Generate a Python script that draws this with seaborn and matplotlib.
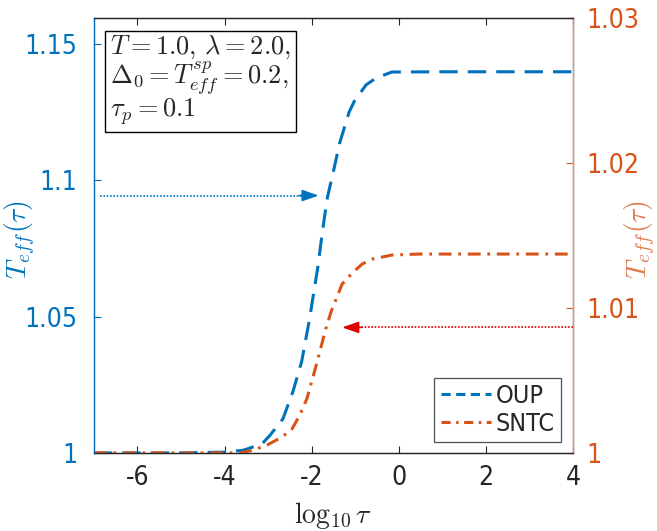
import numpy as np
import pandas as pd
import matplotlib
matplotlib.use('Agg')
import matplotlib.pyplot as plt
import seaborn as sns
from matplotlib.lines import Line2D

# 数据
oup_x = [-7.0, -5.0, -4.0, -3.57, -3.14, -2.95, -2.66, -2.43, -2.23, -2.05, -1.86,
         -1.75, -1.64, -1.48, -1.36, -1.14, -1.02, -0.75, -0.52, -0.16, 1.0, 4.0]
oup_y = [1.0, 1.0, 1.0003, 1.001, 1.0033, 1.0066, 1.0125, 1.0225, 1.0335, 1.049, 1.068,
         1.0815, 1.0936, 1.1047, 1.1135, 1.125, 1.129, 1.135, 1.1375, 1.1397, 1.1398, 1.1398]

sntc_x = [-7.0, -5.0, -4.0, -3.64, -3.34, -3.02, -2.68, -2.45, -2.27, -2.11, -2.0, -1.89,
          -1.77, -1.68, -1.55, -1.43, -1.30, -1.07, -0.84, -0.61, -0.16, 0.45, 2.0, 4.0]
sntc_y = [1.0, 1.0, 1.0, 1.0, 1.0002, 1.00055, 1.0011, 1.00166, 1.00263, 1.00374, 1.00492,
          1.0061, 1.00748, 1.00852, 1.00977, 1.01067, 1.01165, 1.0124, 1.01303, 1.01337,
          1.01365, 1.01372, 1.01372, 1.01372]

# 箭头（起点, 终点）
blue_arrow = [(-6.85, 1.0944), (-1.84, 1.0944)]
red_arrow = [(4.0, 1.00866), (-1.30, 1.00866)]

left_ticks = [1.0, 1.05, 1.1, 1.15]
left_labels = ['1', '1.05', '1.1', '1.15']
right_ticks = [1.0, 1.01, 1.02, 1.03]
right_labels = ['1', '1.01', '1.02', '1.03']
x_ticks = [-6, -4, -2, 0, 2, 4]

blue = '#0072BD'
orange = '#D95319'
dark = '#262626'
oup_dash = (6.0, 3.3)
sntc_dash = (4.2, 2.2, 0.9, 2.2)

sns.set_style('ticks')
plt.rcParams['font.family'] = ['DejaVu Sans']
plt.rcParams['font.stretch'] = 'condensed'
plt.rcParams['mathtext.fontset'] = 'cm'

fig = plt.figure(figsize=(6.57, 5.31), dpi=100)
ax = fig.add_axes([0.143, 0.147, 0.729, 0.819])
ax2 = ax.twinx()

df_oup = pd.DataFrame({'x': oup_x, 'y': oup_y})
df_sntc = pd.DataFrame({'x': sntc_x, 'y': sntc_y})

sns.lineplot(data=df_oup, x='x', y='y', ax=ax, color=blue, lw=2.2, sort=False)
sns.lineplot(data=df_sntc, x='x', y='y', ax=ax2, color=orange, lw=2.2, sort=False)
ax.lines[0].set_dashes(oup_dash)
ax2.lines[0].set_dashes(sntc_dash)

ax.set_xlim(-7, 4)
ax.set_ylim(1.0, 1.1595)
ax2.set_ylim(1.0, 1.03)

ax.set_xticks(x_ticks)
ax.set_xticklabels([str(t) for t in x_ticks])
ax.set_yticks(left_ticks)
ax.set_yticklabels(left_labels)
ax2.set_yticks(right_ticks)
ax2.set_yticklabels(right_labels)

ax.tick_params(axis='x', direction='in', top=True, length=5, width=0.8,
               colors=dark, labelsize=19, pad=9)
ax.tick_params(axis='y', direction='in', length=5, width=0.8, colors=blue,
               labelsize=19, pad=12)
ax2.tick_params(axis='y', direction='in', length=5, width=0.8, colors=orange,
                labelsize=19, pad=10)

for a in (ax, ax2):
    for s in a.spines.values():
        s.set_linewidth(0.9)
        s.set_color(dark)
        s.set_visible(True)
ax2.spines['left'].set_color(blue)
ax2.spines['right'].set_color('#E39A78')
ax.spines['left'].set_color(blue)

ax.set_xlabel(r'$\log_{10}\tau$', fontsize=20, color=dark, labelpad=6)
ax.set_ylabel(r'$T_{eff}(\tau)$', fontsize=20, color=blue)
ax2.set_ylabel(r'$T_{eff}(\tau)$', fontsize=20, color='#E07A4E', rotation=90)
ax.yaxis.set_label_coords(-0.117, 0.49)
ax2.yaxis.set_label_coords(1.104, 0.49)

# 箭头
(bx0, by0), (bx1, by1) = blue_arrow
ax.plot([bx0, bx1 - 0.3], [by0, by1], color=blue, lw=1.2, ls=(0, (1, 1)))
ax.annotate('', xy=(bx1, by1), xytext=(bx1 - 0.45, by1),
            arrowprops=dict(arrowstyle='-|>,head_length=1.0,head_width=0.35',
                            color=blue, lw=1.2, shrinkA=0, shrinkB=0))
(rx0, ry0), (rx1, ry1) = red_arrow
ax2.plot([rx0, rx1 + 0.3], [ry0, ry1], color='#E00000', lw=1.2, ls=(0, (1, 1)))
ax2.annotate('', xy=(rx1, ry1), xytext=(rx1 + 0.45, ry1),
             arrowprops=dict(arrowstyle='-|>,head_length=1.0,head_width=0.35',
                             color='#E00000', lw=1.2, shrinkA=0, shrinkB=0))

# 参数文本框
txt = '$T=1.0,\\,\\lambda=2.0,$\n$\\Delta_0=T^{sp}_{eff}=0.2,$\n$\\tau_p=0.1$'
ax2.text(0.034, 0.965, txt, transform=ax.transAxes, fontsize=19, va='top', ha='left',
         linespacing=0.95,
         bbox=dict(boxstyle='square,pad=0.2', fc='white', ec='black', lw=1.0))

handles = [Line2D([], [], color=blue, lw=2.2, dashes=(3.0, 1.8)),
           Line2D([], [], color=orange, lw=2.2, dashes=(3.0, 1.8, 0.8, 1.8))]
leg = ax2.legend(handles, ['OUP', 'SNTC'], loc='lower right', bbox_to_anchor=(0.975, 0.025),
                 fontsize=18, frameon=True, fancybox=False, handlelength=2.0,
                 handletextpad=0.2, borderpad=0.25, labelspacing=0.15, borderaxespad=0)
leg.get_frame().set_edgecolor(dark)
leg.get_frame().set_linewidth(0.9)

fig.savefig('out.png', dpi=100)
